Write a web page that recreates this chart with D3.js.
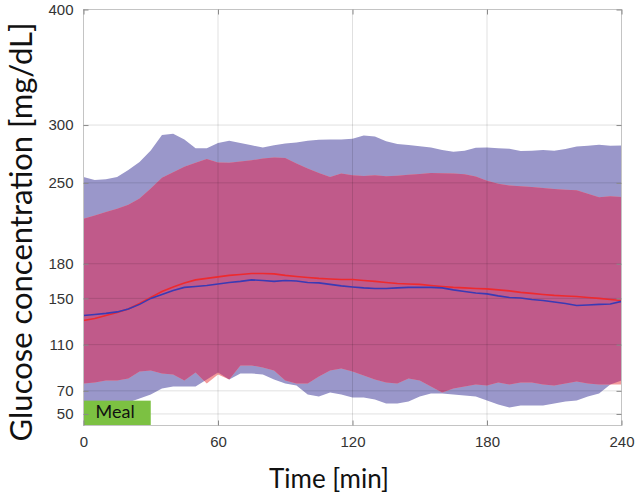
<!DOCTYPE html>
<html>
<head>
<meta charset="utf-8">
<script src="https://cdn.jsdelivr.net/npm/d3@7/dist/d3.min.js"></script>
<style>
  body { margin: 0; background: #fff; }
  svg { display: block; }
</style>
</head>
<body>
<svg id="chart"></svg>
<script>
// time axis (min)
var times = [0, 5, 10, 15, 20, 25, 30, 35, 40, 45, 50, 55, 60, 65, 70, 75, 80, 85, 90, 95,
  100, 105, 110, 115, 120, 125, 130, 135, 140, 145, 150, 155, 160, 165, 170, 175, 180, 185,
  190, 195, 200, 205, 210, 215, 220, 225, 230, 235, 240];

// blue band (upper / lower bound) and its mean
var blueUpper = [255, 252.5, 253, 255, 261, 268, 278, 291.5, 292.5, 287.5, 280, 280, 284.5, 286.5,
  284.5, 282.5, 280.5, 282.5, 284, 285, 286.5, 287.3, 287.4, 287.4, 288.2, 291, 290, 286, 283.6,
  282.8, 281.7, 280.6, 278.5, 276.8, 277.8, 280.3, 280.6, 280, 279.5, 277.6, 277.8, 278.4, 277.7,
  279.2, 281.4, 282, 283, 282, 282.4];
var blueLower = [60.8, 59.9, 59, 59, 59.9, 63.4, 66.8, 72, 73.8, 73.8, 73.8, 79.8, 85.9, 79.8,
  85, 85, 84.2, 79.8, 76.4, 74.6, 66.8, 65.1, 68.6, 66.8, 64.2, 64.2, 62.5, 59, 59, 60.8, 65.1,
  67.7, 67.7, 66.8, 66, 65.1, 61.6, 58.2, 55.6, 57.3, 57.3, 57.3, 59, 60.8, 61.6, 65.1, 67.7,
  75.5, 79];
var blueMean = [135.2, 136.1, 137, 138.3, 140.9, 144.8, 150, 153.4, 156.9, 159.5, 160.3, 161.2,
  162.5, 163.8, 164.7, 166, 165.5, 164.7, 165.5, 165.1, 163.8, 163.4, 162.1, 160.8, 159.9, 159.1,
  158.6, 158.6, 159.1, 159.5, 159.5, 159.5, 159.1, 157.4, 156, 154.7, 153.9, 152.2, 150.8, 150.4,
  149.1, 148.2, 146.9, 145.6, 143.9, 144.3, 144.8, 145.2, 147.4];

// red band (upper / lower bound) and its mean
var redUpper = [219, 221.8, 224.7, 227.6, 231, 236.5, 245.2, 254.5, 259.2, 264, 267.3, 270.7,
  267.5, 267.3, 268.4, 269.5, 271.1, 272, 271.5, 266.7, 262.3, 258.5, 255, 258, 256.6, 256, 256.5,
  255.7, 256.2, 256.9, 257.7, 258.5, 258.2, 258, 257.5, 255.5, 251.8, 249.3, 247.6, 247, 246.4,
  245.5, 244.7, 244.1, 243.5, 240.5, 237.5, 238.3, 237.7];
var redLower = [76.4, 77.2, 79, 79, 80.7, 86.8, 87.6, 85, 84.2, 79, 85.9, 76.4, 84.2, 79.8, 92,
  92, 90.2, 87.6, 79, 76.4, 76.4, 82.4, 87.6, 89.4, 86.8, 83.3, 79.8, 77.2, 76.4, 80.7, 79, 73.8,
  68.6, 72, 73.8, 75.5, 74.6, 77.2, 75.5, 77.2, 77.2, 75.5, 74.6, 76.4, 78.1, 76.4, 75.5, 75.5,
  75.5];
var redMean = [130.9, 132.6, 135.2, 137.8, 140.9, 145.6, 150.8, 156, 159.9, 163.4, 166, 167.3,
  168.6, 169.9, 170.7, 171.6, 171.6, 171.2, 169.9, 169, 168.1, 167.3, 166.8, 166.4, 166.4, 165.5,
  164.7, 163.8, 162.9, 162.5, 162.1, 161.2, 160.3, 159.5, 159.1, 158.6, 158.2, 157.4, 156.5,
  155.2, 154.3, 153.4, 152.6, 152.1, 151.7, 150.8, 150, 149.1, 148.2];

var xTicks = [0, 60, 120, 180, 240];
var yTicks = [50, 70, 110, 150, 180, 250, 300, 400];
var meal = [0, 30];   // meal window (min)
var mealTop = 61.5;   // height of the meal marker (mg/dL)

var width = 638, height = 497;

var svg = d3.select('#chart').attr('width', width).attr('height', height);

var x = d3.scaleLinear().domain([0, 240]).range([83.5, 621.5]);
var y = d3.scaleLinear().domain([40, 400]).range([425.5, 9.5]);

function band(lo, hi) {
  return d3.area()
    .x(function (d, i) { return x(times[i]); })
    .y0(function (d, i) { return y(lo[i]); })
    .y1(function (d, i) { return y(hi[i]); })(times);
}
function meanLine(vals) {
  return d3.line()
    .x(function (d, i) { return x(times[i]); })
    .y(function (d, i) { return y(vals[i]); })(times);
}

svg.append('clipPath').attr('id', 'blue-clip')
  .append('path').attr('d', band(blueLower, blueUpper));

// blue only, red only, and overlap of the two bands
svg.append('path').attr('d', band(blueLower, blueUpper)).attr('fill', '#9a97ca');
svg.append('path').attr('d', band(redLower, redUpper)).attr('fill', '#f39a9a');
svg.append('path').attr('d', band(redLower, redUpper)).attr('fill', '#c05a8a')
  .attr('clip-path', 'url(#blue-clip)');

// grid
var grid = svg.append('g').attr('stroke', '#000').attr('stroke-opacity', 0.12);
grid.selectAll('.h').data(yTicks.filter(function (v) { return v < 400; })).enter()
  .append('line')
  .attr('x1', x(0)).attr('x2', x(240))
  .attr('y1', function (d) { return y(d); }).attr('y2', function (d) { return y(d); });
grid.selectAll('.v').data(xTicks.filter(function (v) { return v > 0 && v < 240; })).enter()
  .append('line')
  .attr('y1', y(40)).attr('y2', y(400))
  .attr('x1', function (d) { return x(d); }).attr('x2', function (d) { return x(d); });

// means
svg.append('path').attr('d', meanLine(redMean))
  .attr('fill', 'none').attr('stroke', '#ee2a2e').attr('stroke-width', 1.6);
svg.append('path').attr('d', meanLine(blueMean))
  .attr('fill', 'none').attr('stroke', '#3a3ab4').attr('stroke-width', 1.6);

// meal marker
svg.append('rect')
  .attr('x', x(meal[0])).attr('y', y(mealTop))
  .attr('width', x(meal[1]) - x(meal[0])).attr('height', y(40) - y(mealTop))
  .attr('fill', '#7cc142');
svg.append('text')
  .attr('x', x(meal[0]) + 12).attr('y', y(40) - 8)
  .attr('font-family', 'Lato, sans-serif').attr('font-size', 18)
  .attr('fill', '#111')
  .text('Meal');

// box
svg.append('rect')
  .attr('x', x(0)).attr('y', y(400))
  .attr('width', x(240) - x(0)).attr('height', y(40) - y(400))
  .attr('fill', 'none').attr('stroke', '#c4c4c4');

function styleAxis(g) {
  g.select('.domain').remove();
  g.selectAll('.tick line').attr('stroke', '#8a8a8a');
  g.selectAll('.tick text')
    .attr('font-family', '"Liberation Sans", Arial, sans-serif')
    .attr('font-size', 15).attr('fill', '#333');
}

svg.append('g').attr('transform', 'translate(' + x(0) + ',0)')
  .call(d3.axisLeft(y).tickValues(yTicks).tickSize(-5).tickPadding(10))
  .call(styleAxis);
svg.append('g').attr('transform', 'translate(' + x(240) + ',0)')
  .call(d3.axisRight(y).tickValues(yTicks).tickSize(-5).tickFormat(''))
  .call(styleAxis);
svg.append('g').attr('transform', 'translate(0,' + y(40) + ')')
  .call(d3.axisBottom(x).tickValues(xTicks).tickSize(-5).tickPadding(11))
  .call(styleAxis);
svg.append('g').attr('transform', 'translate(0,' + y(400) + ')')
  .call(d3.axisTop(x).tickValues(xTicks).tickSize(-5).tickFormat(''))
  .call(styleAxis);

// axis titles
svg.append('text')
  .attr('transform', 'translate(32,232) rotate(-90)')
  .attr('text-anchor', 'middle')
  .attr('font-family', 'Lato, sans-serif').attr('font-size', 31)
  .attr('fill', '#111')
  .text('Glucose concentration [mg/dL]');
svg.append('text')
  .attr('x', 329).attr('y', 488)
  .attr('text-anchor', 'middle')
  .attr('font-family', 'Lato, sans-serif').attr('font-size', 26)
  .attr('fill', '#111')
  .text('Time [min]');
</script>
</body>
</html>
